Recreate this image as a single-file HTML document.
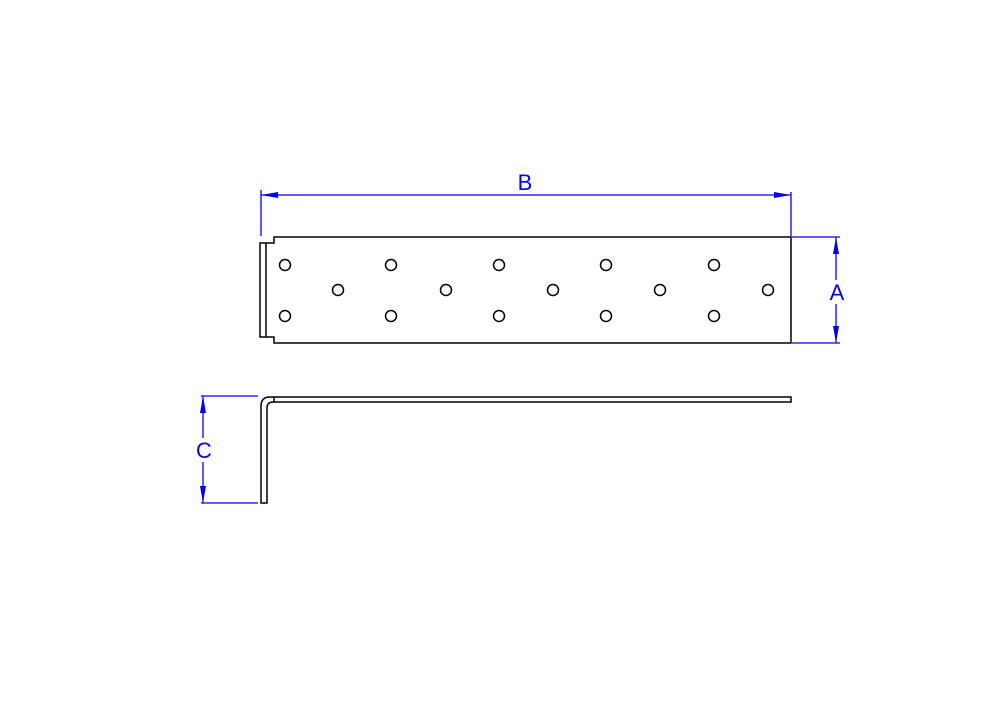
<!DOCTYPE html>
<html><head><style>html,body{margin:0;padding:0;background:#fff}</style></head>
<body>
<svg width="1000" height="700" viewBox="0 0 1000 700" xmlns="http://www.w3.org/2000/svg">
<rect width="1000" height="700" fill="#fff"/>
<g fill="none" stroke="#000" stroke-width="1.5">
<path d="M274 237 H791 V343 H274 V337 H260 V243 H274 Z"/>
<line x1="266" y1="243" x2="266" y2="337"/>
<g>
<circle cx="285" cy="265" r="5.5"/><circle cx="391" cy="265" r="5.5"/><circle cx="499" cy="265" r="5.5"/><circle cx="606" cy="265" r="5.5"/><circle cx="714" cy="265" r="5.5"/>
<circle cx="285" cy="316" r="5.5"/><circle cx="391" cy="316" r="5.5"/><circle cx="499" cy="316" r="5.5"/><circle cx="606" cy="316" r="5.5"/><circle cx="714" cy="316" r="5.5"/>
<circle cx="338" cy="290" r="5.5"/><circle cx="446" cy="290" r="5.5"/><circle cx="553" cy="290" r="5.5"/><circle cx="660" cy="290" r="5.5"/><circle cx="768" cy="290" r="5.5"/>
</g>
<path d="M261 503 V406 Q261 397 270 397 H791 V402 H273 Q267 402 267 408 V503 Z"/>
<line x1="274" y1="397" x2="274" y2="402"/>
</g>
<g stroke="#0000ff" stroke-width="1.3" fill="none">
<line x1="261" y1="190" x2="261" y2="236"/>
<line x1="791" y1="192" x2="791" y2="236"/>
<line x1="261" y1="195" x2="791" y2="195"/>
<line x1="792" y1="237" x2="840" y2="237"/>
<line x1="792" y1="343" x2="840" y2="343"/>
<line x1="836" y1="237" x2="836" y2="280"/>
<line x1="836" y1="304" x2="836" y2="343"/>
<line x1="201" y1="396" x2="258" y2="396"/>
<line x1="201" y1="503" x2="258" y2="503"/>
<line x1="203" y1="396" x2="203" y2="438"/>
<line x1="203" y1="462" x2="203" y2="503"/>
</g>
<g fill="#0000ff">
<polygon points="261,195 278,192 278,198"/>
<polygon points="791,195 774,192 774,198"/>
<polygon points="836,237 833,254 839,254"/>
<polygon points="836,343 833,326 839,326"/>
<polygon points="203,396 200,413 206,413"/>
<polygon points="203,503 200,486 206,486"/>
</g>
<g fill="#0000ff" font-family="Liberation Sans, sans-serif" font-size="22" text-anchor="middle">
<text x="525" y="190">B</text>
<text x="837" y="300">A</text>
<text x="204" y="458">C</text>
</g>
</svg>
</body></html>
